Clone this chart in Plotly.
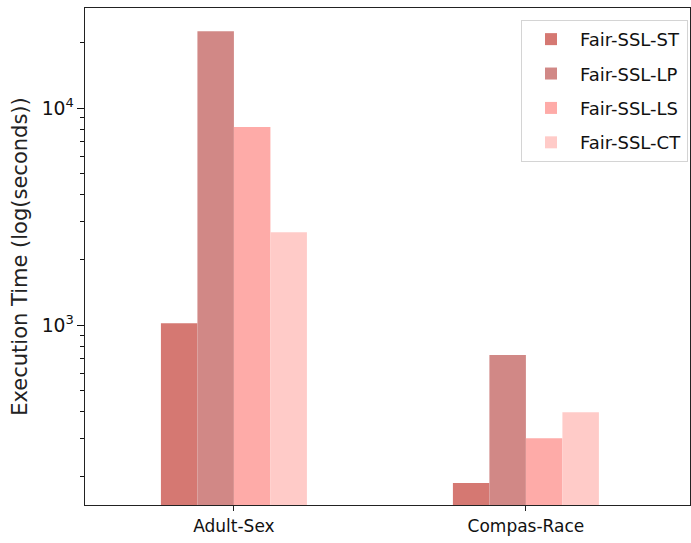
import plotly.graph_objects as go

# Execution time per dataset and Fair-SSL variant (seconds)
datasets = ["Adult-Sex", "Compas-Race"]
methods = ["Fair-SSL-ST", "Fair-SSL-LP", "Fair-SSL-LS", "Fair-SSL-CT"]
time_st = [1020, 187]
time_lp = [22600, 728]
time_ls = [8170, 301]
time_ct = [2680, 397]
colors = ["#D57872", "#D18886", "#FEABA8", "#FFCBC8"]

series = [time_st, time_lp, time_ls, time_ct]

fig = go.Figure()
for name, vals, col in zip(methods, series, colors):
    fig.add_trace(go.Bar(
        x=[0, 1], y=vals, name=name, legendgroup=name,
        marker=dict(color=col, line=dict(width=0)),
    ))

fig.update_layout(
    width=691, height=543,
    margin=dict(l=85, r=1, t=8, b=38),
    paper_bgcolor="white", plot_bgcolor="white",
    barmode="group", bargap=0.5, bargroupgap=0,
    font=dict(family="DejaVu Sans", size=17, color="#111"),
    legend=dict(
        x=0.7207, y=0.976, xanchor="left", yanchor="top",
        bgcolor="white", bordercolor="#d4d4d4", borderwidth=1,
        font=dict(size=18, color="#111"), itemwidth=48,
        tracegroupgap=8,
    ),
    showlegend=True,
)
fig.update_xaxes(
    range=[-0.51, 1.562],
    tickvals=[0, 1], ticktext=datasets,
    ticks="outside", ticklen=5, tickcolor="#222",
    showline=True, linecolor="#222", linewidth=1.3, mirror=True,
    showgrid=False, zeroline=False,
    tickfont=dict(size=17, color="#111"),
)
fig.update_yaxes(
    type="log",
    range=[2.171, 4.461],
    tickmode="linear", tick0=0, dtick=1,
    exponentformat="power", showexponent="all",
    ticks="outside", ticklen=7, tickwidth=1.3, tickcolor="#111",
    minor=dict(dtick="D1", ticks="outside", ticklen=4, tickwidth=1.2,
               tickcolor="#111", showgrid=False),
    showline=True, linecolor="#222", linewidth=1.3, mirror=True,
    showgrid=False, zeroline=False,
    tickfont=dict(size=15, color="#111"),
    title=dict(text="Execution Time (log(seconds))", font=dict(size=21, color="#222"), standoff=8),
)

fig.write_html("out.html")
